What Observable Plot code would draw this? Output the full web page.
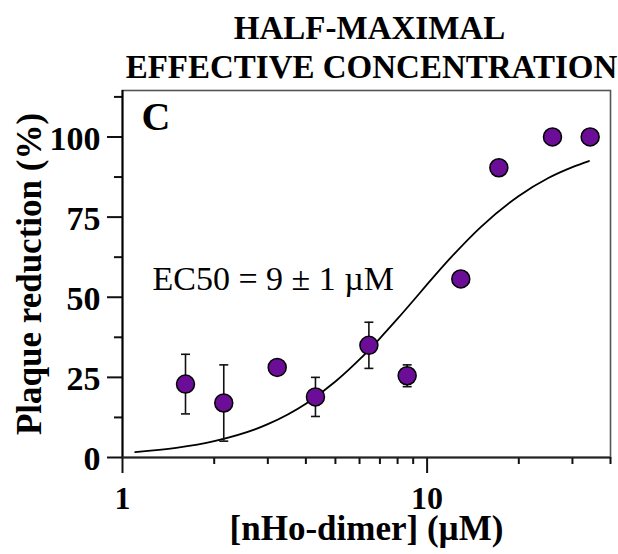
<!DOCTYPE html>
<html>
<head>
<meta charset="utf-8">
<script src="https://cdn.jsdelivr.net/npm/d3@7"></script>
<script src="https://cdn.jsdelivr.net/npm/@observablehq/plot@0.6"></script>
<style>
  html, body { margin: 0; padding: 0; background: #fff; }
</style>
</head>
<body>
<div id="chart"></div>
<script>
// ---- data ----
const conc = [1.61, 2.15, 3.22, 4.30, 6.44, 8.6, 12.9, 17.2, 25.8, 34.3];
const reduction = [22.9, 17.0, 28.1, 18.9, 35.0, 25.5, 55.7, 90.4, 100, 100];
const errorSize = [9.3, 11.9, 0, 6.1, 7.2, 3.4, 0, 0, 0, 0];

// fitted curve, points
const fitConc = [1.1, 1.5, 2, 3, 4, 5, 6, 7, 8, 9, 10, 12, 15, 20, 25, 30, 34];
const fitReduction = [1.7, 3.0, 5.1, 10.4, 16.8, 23.7, 30.6, 37.2, 43.3, 48.9, 54.0, 62.5, 71.9, 81.6, 87.2, 90.6, 92.5];

const yMajorTicks = [0, 25, 50, 75, 100];
const yMinorTicks = [12.5, 37.5, 62.5, 87.5, 112.5];
const xMajorTicks = [1, 10];
const xMinorTicks = [2, 3, 4, 5, 6, 7, 8, 9, 20, 30, 40];

const titleLines = ["HALF-MAXIMAL", "EFFECTIVE CONCENTRATION"];
const panelLetter = "C";
const annotation = "EC50 = 9 \u00B1 1 \u00B5M";
const xLabel = "[nHo-dimer] (\u00B5M)";
const yLabel = "Plaque reduction (%)";

// ---- tables built from the arrays ----
const points = conc.map((c, i) => ({conc: c, value: reduction[i], err: errorSize[i]}));
const errPoints = points.filter(d => d.err > 0);
const fit = fitConc.map((c, i) => ({conc: c, value: fitReduction[i]}));

const capSymbol = {
  draw(context, size) {
    const w = Math.sqrt(size / Math.PI);
    context.moveTo(-w, 0);
    context.lineTo(w, 0);
  }
};

const serif = "'Liberation Serif', 'Times New Roman', serif";
const tickColor = "#111";

const chart = Plot.plot({
  width: 618,
  height: 554,
  marginTop: 90,
  marginBottom: 97,
  marginLeft: 122,
  marginRight: 8,
  style: {fontFamily: serif, background: "white", color: "black"},
  x: {type: "log", domain: [1, 40]},
  y: {domain: [0, 114.5]},
  marks: [
    Plot.frame({stroke: "#555", strokeWidth: 1.6}),
    // y ticks (outward, to the left of the axis)
    Plot.ruleY(yMinorTicks, {y: d => d, x1: 1, x2: 1, insetLeft: -8, stroke: tickColor, strokeWidth: 2}),
    Plot.ruleY(yMajorTicks, {y: d => d, x1: 1, x2: 1, insetLeft: -15, stroke: tickColor, strokeWidth: 2}),
    // x ticks (outward, below the axis)
    Plot.ruleX(xMinorTicks, {x: d => d, y1: 0, y2: 0, insetBottom: -7, stroke: tickColor, strokeWidth: 2}),
    Plot.ruleX(xMajorTicks, {x: d => d, y1: 0, y2: 0, insetBottom: -16, stroke: tickColor, strokeWidth: 2}),
    // tick labels
    Plot.axisY(yMajorTicks, {tickSize: 0, tickPadding: 22, tickFormat: d => String(d), fontSize: 34, fontWeight: "bold", label: null, dy: 2}),
    Plot.axisX(xMajorTicks, {tickSize: 0, tickPadding: 29, tickFormat: d => String(d), fontSize: 32, fontWeight: "bold", label: null}),
    // axis lines
    Plot.ruleX([1], {stroke: "black", strokeWidth: 2}),
    Plot.ruleY([0], {stroke: "#222", strokeWidth: 2}),
    // fitted curve
    Plot.line(fit, {x: "conc", y: "value", stroke: "black", strokeWidth: 1.8, curve: "monotone-x"}),
    // error bars
    Plot.ruleX(errPoints, {x: "conc", y1: d => d.value - d.err, y2: d => d.value + d.err, stroke: "#111", strokeWidth: 1.6}),
    Plot.dot(errPoints, {x: "conc", y: d => d.value - d.err, symbol: capSymbol, r: 4.5, fill: "none", stroke: "#111", strokeWidth: 1.6}),
    Plot.dot(errPoints, {x: "conc", y: d => d.value + d.err, symbol: capSymbol, r: 4.5, fill: "none", stroke: "#111", strokeWidth: 1.6}),
    // data points
    Plot.dot(points, {x: "conc", y: "value", r: 9, fill: "#6b0d96", stroke: "black", strokeWidth: 1.5}),
    // texts
    Plot.text([titleLines[0]], {text: d => d, frameAnchor: "top", textAnchor: "middle", lineAnchor: "middle", dx: 3, dy: -62, fontSize: 33, fontWeight: "bold"}),
    Plot.text([titleLines[1]], {text: d => d, frameAnchor: "top", textAnchor: "middle", lineAnchor: "middle", dx: 5, dy: -23, fontSize: 33, fontWeight: "bold"}),
    Plot.text([panelLetter], {text: d => d, frameAnchor: "top-left", textAnchor: "start", lineAnchor: "middle", dx: 19, dy: 26.5, fontSize: 40, fontWeight: "bold"}),
    Plot.text([annotation], {text: d => d, frameAnchor: "top-left", textAnchor: "start", lineAnchor: "middle", dx: 30, dy: 189, fontSize: 34}),
    Plot.text([yLabel], {text: d => d, frameAnchor: "left", textAnchor: "middle", lineAnchor: "middle", rotate: -90, dx: -93, fontSize: 35, fontWeight: "bold"}),
    Plot.text([xLabel], {text: d => d, frameAnchor: "bottom", textAnchor: "middle", lineAnchor: "middle", dy: 71, fontSize: 35, fontWeight: "bold"})
  ]
});

document.getElementById("chart").appendChild(chart);
</script>
</body>
</html>
